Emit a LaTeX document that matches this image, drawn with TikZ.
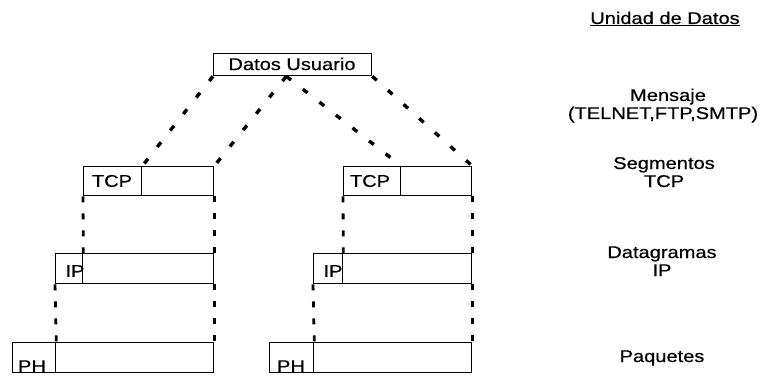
\documentclass[tikz,border=0pt]{standalone}
\usepackage{fontspec}
\setmainfont{Liberation Sans}[FakeStretch=1.18,FakeBold=0.5]
\usetikzlibrary{calc}
\begin{document}
\begin{tikzpicture}[x=1pt,y=-1pt,
  box/.style={draw, line width=1.3pt, inner sep=0pt, anchor=north west},
  lbl/.style={font=\fontsize{17}{20}\selectfont, inner sep=0pt},
  hop/.style={line width=3.4pt, dash pattern=on 6pt off 15pt},
  drop/.style={line width=2.8pt, dash pattern=on 6pt off 11pt}]
\useasboundingbox (0,0) rectangle (767,382);

% user data block
\node[box, minimum width=158pt, minimum height=22pt] (du) at (213,53) {};
\node[lbl] (dut) at (292,64) {Datos Usuario};

% TCP segments
\node[box, minimum width=58pt, minimum height=29pt] (tcpLh) at (83,166) {};
\node[box, minimum width=72pt, minimum height=29pt] (tcpLb) at (141,166) {};
\node[box, minimum width=57pt, minimum height=29pt] (tcpRh) at (343,166) {};
\node[box, minimum width=71pt, minimum height=29pt] (tcpRb) at (400,166) {};
\node[lbl] (tcpLt) at (112,181) {TCP};
\node[lbl] (tcpRt) at (370,181) {TCP};

% IP datagrams
\node[box, minimum width=27pt, minimum height=30pt] (ipLh) at (55,253) {};
\node[box, minimum width=131pt, minimum height=30pt] (ipLb) at (82,253) {};
\node[box, minimum width=29pt, minimum height=30pt] (ipRh) at (313,253) {};
\node[box, minimum width=129pt, minimum height=30pt] (ipRb) at (342,253) {};
\node[lbl] (ipLt) at (75,271) {IP};
\node[lbl] (ipRt) at (333,271) {IP};

% packets
\node[box, minimum width=43pt, minimum height=30pt] (phLh) at (12,342) {};
\node[box, minimum width=158pt, minimum height=30pt] (phLb) at (55,342) {};
\node[box, minimum width=44pt, minimum height=30pt] (phRh) at (269,342) {};
\node[box, minimum width=158pt, minimum height=30pt] (phRb) at (313,342) {};
\node[lbl, anchor=base] (phLt) at (32,372) {PH};
\node[lbl, anchor=base] (phRt) at (291,372) {PH};

% split of the user data into segments
\coordinate (dumid) at ($(du.south west)!0.46!(du.south east)$);
\draw[hop] (du.south west) -- (tcpLh.north east);
\draw[hop] (dumid) -- (tcpLb.north east);
\draw[hop] (dumid) -- (tcpRh.north east);
\draw[hop] (du.south east) -- (tcpRb.north east);

% encapsulation downwards
\draw[drop] (tcpLh.south west) -- (ipLh.north east);
\draw[drop] (tcpLb.south east) -- (ipLb.north east);
\draw[drop] (ipLh.south west) -- (phLh.north east);
\draw[drop] (ipLb.south east) -- (phLb.north east);
\draw[drop] (tcpRh.south west) -- (ipRh.north east);
\draw[drop] (tcpRb.south east) -- (ipRb.north east);
\draw[drop] (ipRh.south west) -- (phRh.north east);
\draw[drop] (ipRb.south east) -- (phRb.north east);

% data unit names
\node[lbl, anchor=base] (unit) at (665,24) {\underline{Unidad de Datos}};
\node[lbl, anchor=base] (msg) at (668,101) {Mensaje};
\node[lbl, anchor=base] (msgp) at (663,119) {(TELNET,FTP,SMTP)};
\node[lbl, anchor=base] (seg) at (664,169) {Segmentos};
\node[lbl, anchor=base] (segp) at (664,187) {TCP};
\node[lbl, anchor=base] (dgr) at (662,258) {Datagramas};
\node[lbl, anchor=base] (dgrp) at (662,276) {IP};
\node[lbl, anchor=base] (pkt) at (662,362) {Paquetes};
\end{tikzpicture}
\end{document}
